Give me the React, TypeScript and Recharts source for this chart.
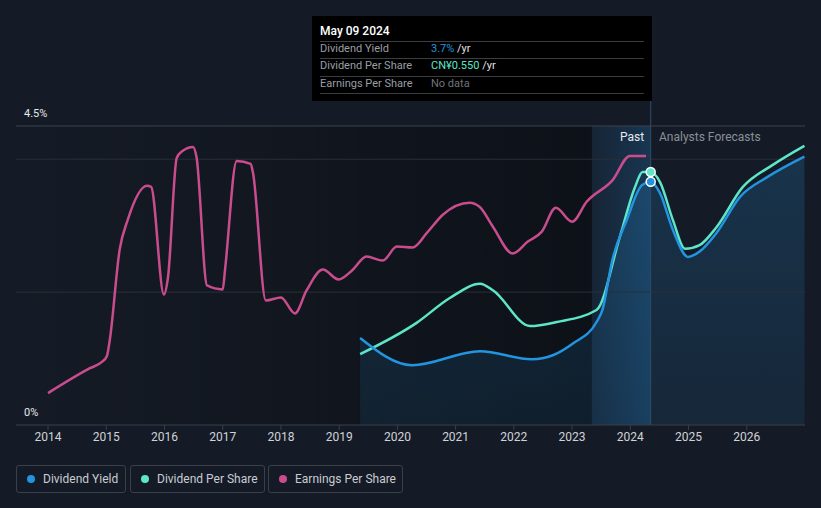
import React from 'react';
import {
  ComposedChart,
  Line,
  Area,
  XAxis,
  YAxis,
  ReferenceLine,
  ReferenceArea,
} from 'recharts';

// x values are fractional years
const yieldData = [
  { year: 2019.36, value: 1.31 },
  { year: 2020.25, value: 0.9 },
  { year: 2021.42, value: 1.11 },
  { year: 2022.31, value: 0.99 },
  { year: 2022.67, value: 1.05 },
  { year: 2023.02, value: 1.23 },
  { year: 2023.42, value: 1.55 },
  { year: 2023.52, value: 1.73 },
  { year: 2023.69, value: 2.48 },
  { year: 2023.94, value: 3.09 },
  { year: 2024.2, value: 3.61 },
  { year: 2024.35, value: 3.66 },
  { year: 2024.51, value: 3.49 },
  { year: 2024.73, value: 2.94 },
  { year: 2024.99, value: 2.53 },
  { year: 2025.19, value: 2.61 },
  { year: 2025.48, value: 2.89 },
  { year: 2025.88, value: 3.43 },
  { year: 2026.35, value: 3.73 },
  { year: 2026.99, value: 4.04 },
];

const dpsData = [
  { year: 2019.36, value: 0.154 },
  { year: 2020.33, value: 0.222 },
  { year: 2020.9, value: 0.276 },
  { year: 2021.42, value: 0.307 },
  { year: 2021.64, value: 0.293 },
  { year: 2022.28, value: 0.215 },
  { year: 2022.74, value: 0.224 },
  { year: 2023.42, value: 0.25 },
  { year: 2023.82, value: 0.409 },
  { year: 2024.08, value: 0.517 },
  { year: 2024.21, value: 0.55 },
  { year: 2024.35, value: 0.55 },
  { year: 2024.51, value: 0.528 },
  { year: 2024.73, value: 0.446 },
  { year: 2024.94, value: 0.383 },
  { year: 2025.19, value: 0.391 },
  { year: 2025.48, value: 0.43 },
  { year: 2025.93, value: 0.517 },
  { year: 2026.44, value: 0.565 },
  { year: 2026.99, value: 0.607 },
];

const epsData = [
  { year: 2014.0, value: 0.32 },
  { year: 2014.72, value: 0.57 },
  { year: 2014.92, value: 0.63 },
  { year: 2015.01, value: 0.69 },
  { year: 2015.06, value: 0.85 },
  { year: 2015.23, value: 1.76 },
  { year: 2015.37, value: 2.06 },
  { year: 2015.7, value: 2.4 },
  { year: 2015.77, value: 2.39 },
  { year: 2015.99, value: 1.31 },
  { year: 2016.06, value: 1.48 },
  { year: 2016.21, value: 2.68 },
  { year: 2016.31, value: 2.75 },
  { year: 2016.49, value: 2.79 },
  { year: 2016.55, value: 2.69 },
  { year: 2016.73, value: 1.4 },
  { year: 2017.0, value: 1.36 },
  { year: 2017.04, value: 1.56 },
  { year: 2017.24, value: 2.65 },
  { year: 2017.48, value: 2.62 },
  { year: 2017.52, value: 2.53 },
  { year: 2017.74, value: 1.25 },
  { year: 2018.0, value: 1.28 },
  { year: 2018.24, value: 1.12 },
  { year: 2018.44, value: 1.35 },
  { year: 2018.72, value: 1.56 },
  { year: 2018.99, value: 1.46 },
  { year: 2019.22, value: 1.55 },
  { year: 2019.47, value: 1.69 },
  { year: 2019.75, value: 1.65 },
  { year: 2019.99, value: 1.79 },
  { year: 2020.26, value: 1.78 },
  { year: 2020.51, value: 1.93 },
  { year: 2020.78, value: 2.11 },
  { year: 2021.24, value: 2.23 },
  { year: 2021.41, value: 2.19 },
  { year: 2021.64, value: 1.99 },
  { year: 2021.98, value: 1.72 },
  { year: 2022.24, value: 1.84 },
  { year: 2022.48, value: 1.94 },
  { year: 2022.72, value: 2.18 },
  { year: 2023.0, value: 2.04 },
  { year: 2023.25, value: 2.24 },
  { year: 2023.7, value: 2.46 },
  { year: 2023.99, value: 2.7 },
  { year: 2024.27, value: 2.7 },
];

const yearTicks = [2014, 2015, 2016, 2017, 2018, 2019, 2020, 2021, 2022, 2023, 2024, 2025, 2026];
const gridValues = [2, 4];
const TOP_VALUE = 4.5;
const PAST_START = 2023.34;
const NOW = 2024.35;

const BLUE = '#2394df';
const TEAL = '#5ee6c8';
const PINK = '#c94d8e';
const BG = '#151b26';

const focusDot = (color: string) => (props: any) => {
  const { cx, cy, payload, index } = props;
  if (payload.year !== NOW) return <g key={index} />;
  return <circle key={index} cx={cx} cy={cy} r={4.5} fill={color} stroke="#fff" strokeWidth={1.5} />;
};

const legendItems = [
  { label: 'Dividend Yield', color: BLUE, left: 16, width: 110 },
  { label: 'Dividend Per Share', color: TEAL, left: 130, width: 135 },
  { label: 'Earnings Per Share', color: PINK, left: 268, width: 135 },
];

export default function App() {
  const font = 'Roboto, "Noto Sans", sans-serif';
  return (
    <div style={{ position: 'absolute', left: 0, top: 0, width: 821, height: 508, background: BG, fontFamily: font, overflow: 'hidden' }}>
      <ComposedChart width={821} height={508} margin={{ top: 100, right: 16, bottom: 53, left: 16 }}>
        <defs>
          <linearGradient id="pastShade" x1="0" y1="0" x2="1" y2="0">
            <stop offset="0%" stopColor="#000" stopOpacity={0} />
            <stop offset="100%" stopColor="#000" stopOpacity={0.38} />
          </linearGradient>
          <linearGradient id="pastBand" x1="0" y1="0" x2="1" y2="0">
            <stop offset="0%" stopColor="#1f6aa5" stopOpacity={0.12} />
            <stop offset="100%" stopColor="#1f6aa5" stopOpacity={0.35} />
          </linearGradient>
          <linearGradient id="yieldFill" x1="0" y1="0" x2="0" y2="1">
            <stop offset="0%" stopColor={BLUE} stopOpacity={0.2} />
            <stop offset="100%" stopColor={BLUE} stopOpacity={0.1} />
          </linearGradient>
        </defs>
        <XAxis
          dataKey="year"
          type="number"
          domain={[2013.45, 2027.0]}
          ticks={yearTicks}
          allowDataOverflow
          height={30}
          stroke="#3a3f48"
          tickSize={5}
          tick={{ fill: '#d0d3d8', fontSize: 12, fontFamily: font }}
          tickLine={{ stroke: '#3a3f48' }}
        />
        <YAxis yAxisId="yield" hide domain={[0, 4.891]} />
        <YAxis yAxisId="dps" hide domain={[0, 0.7065]} />
        <YAxis yAxisId="eps" hide domain={[0, 3.261]} />
        <ReferenceArea yAxisId="yield" x1={2013.45} x2={PAST_START} y1={0} y2={TOP_VALUE} fill="url(#pastShade)" fillOpacity={1} stroke="none" />
        <ReferenceArea yAxisId="yield" x1={PAST_START} x2={NOW} y1={0} y2={TOP_VALUE} fill="url(#pastBand)" fillOpacity={1} stroke="none" />
        {gridValues.map((v) => (
          <ReferenceLine key={v} yAxisId="yield" y={v} stroke="#2a2f38" strokeWidth={1} />
        ))}
        <ReferenceLine yAxisId="yield" y={TOP_VALUE} stroke="#3e434c" strokeWidth={1} />
        <ReferenceLine yAxisId="yield" x={NOW} stroke="#2f4c68" strokeWidth={1} />
        <Area
          yAxisId="yield"
          data={yieldData}
          dataKey="value"
          type="monotone"
          stroke="none"
          fill="url(#yieldFill)"
          fillOpacity={1}
          isAnimationActive={false}
        />
        <Line
          yAxisId="eps"
          data={epsData}
          dataKey="value"
          type="monotone"
          stroke={PINK}
          strokeWidth={2.5}
          dot={false}
          isAnimationActive={false}
        />
        <Line
          yAxisId="dps"
          data={dpsData}
          dataKey="value"
          type="monotone"
          stroke={TEAL}
          strokeWidth={2.5}
          dot={focusDot(TEAL)}
          isAnimationActive={false}
        />
        <Line
          yAxisId="yield"
          data={yieldData}
          dataKey="value"
          type="monotone"
          stroke={BLUE}
          strokeWidth={2.5}
          dot={focusDot(BLUE)}
          isAnimationActive={false}
        />
      </ComposedChart>

      <div style={{ position: 'absolute', left: 24, top: 107, fontSize: 11, color: '#e6e8eb' }}>4.5%</div>
      <div style={{ position: 'absolute', left: 24, top: 406, fontSize: 11, color: '#e6e8eb' }}>0%</div>
      <div style={{ position: 'absolute', left: 620, top: 130, fontSize: 12, color: '#e8eaed' }}>Past</div>
      <div style={{ position: 'absolute', left: 659, top: 130, fontSize: 12, color: '#8a8f98' }}>Analysts Forecasts</div>

      <div style={{ position: 'absolute', left: 312, top: 16, width: 340, height: 85, background: '#000', fontSize: 11 }}>
        <div style={{ position: 'absolute', left: 8, top: 8, fontSize: 12, color: '#fff', fontWeight: 500 }}>May 09 2024</div>
        {[0, 1, 2, 3].map((i) => (
          <div key={i} style={{ position: 'absolute', left: 8, right: 8, top: 25 + i * 17.4, height: 1, background: '#3a3d42' }} />
        ))}
        <div style={{ position: 'absolute', left: 8, top: 26, color: '#9a9ea5' }}>Dividend Yield</div>
        <div style={{ position: 'absolute', left: 119, top: 26, color: '#e0e2e5' }}>
          <span style={{ color: BLUE }}>3.7%</span> /yr
        </div>
        <div style={{ position: 'absolute', left: 8, top: 43, color: '#9a9ea5' }}>Dividend Per Share</div>
        <div style={{ position: 'absolute', left: 119, top: 43, color: '#e0e2e5' }}>
          <span style={{ color: TEAL }}>CN¥0.550</span> /yr
        </div>
        <div style={{ position: 'absolute', left: 8, top: 61, color: '#9a9ea5' }}>Earnings Per Share</div>
        <div style={{ position: 'absolute', left: 119, top: 61, color: '#6f737a' }}>No data</div>
      </div>

      {legendItems.map((item) => (
        <div
          key={item.label}
          style={{
            position: 'absolute',
            left: item.left,
            top: 465,
            width: item.width,
            height: 28,
            boxSizing: 'border-box',
            border: '1px solid #3a3f48',
            borderRadius: 3,
            display: 'flex',
            alignItems: 'center',
            fontSize: 12,
            color: '#c9ccd1',
          }}
        >
          <span style={{ width: 8, height: 8, borderRadius: 4, background: item.color, marginLeft: 10, marginRight: 8 }} />
          {item.label}
        </div>
      ))}
    </div>
  );
}
